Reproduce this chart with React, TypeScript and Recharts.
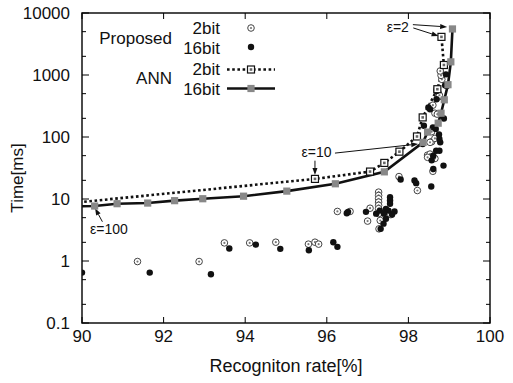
import * as React from "react";
import {
  ComposedChart,
  XAxis,
  YAxis,
  Line,
  Scatter,
  ReferenceLine,
  ReferenceDot,
  ReferenceArea,
} from "recharts";

const W = 513;
const H = 383;
const PLOT = { left: 82, right: 490, top: 13, bottom: 323 };
const FONT = "'Liberation Sans', Arial, Helvetica, sans-serif";

const xTicks = [90, 92, 94, 96, 98, 100];
const yMajor = [0.1, 1, 10, 100, 1000, 10000];
const yMinor = [0.2, 0.5, 2, 5, 20, 50, 200, 500, 2000, 5000];
const yTickLabels = ["0.1", "1", "10", "100", "1000", "10000"];

type Pt = { x: number; y: number };

// recognition rate [%] vs time [ms]
const proposed2bit: Pt[] = [
  { x: 91.36, y: 0.98 }, { x: 92.87, y: 0.98 }, { x: 93.49, y: 1.96 }, { x: 94.11, y: 1.96 },
  { x: 94.75, y: 2.01 }, { x: 95.55, y: 1.87 }, { x: 95.71, y: 2.01 }, { x: 95.8, y: 1.87 },
  { x: 96.26, y: 6.3 }, { x: 96.57, y: 6.3 }, { x: 97.06, y: 7.1 }, { x: 97.0, y: 4.4 },
  { x: 97.27, y: 12.9 }, { x: 97.27, y: 11.4 }, { x: 97.27, y: 10.1 }, { x: 97.27, y: 8.9 },
  { x: 97.27, y: 7.9 }, { x: 97.27, y: 7.0 }, { x: 97.27, y: 5.8 }, { x: 97.31, y: 4.5 },
  { x: 97.28, y: 3.3 }, { x: 97.57, y: 5.6 },
  { x: 97.77, y: 23 }, { x: 98.22, y: 13.7 }, { x: 98.6, y: 28 }, { x: 98.47, y: 51 },
  { x: 98.65, y: 45 }, { x: 98.53, y: 53 }, { x: 98.47, y: 47 }, { x: 98.57, y: 84 },
  { x: 98.65, y: 95 }, { x: 98.53, y: 82 }, { x: 98.57, y: 122 }, { x: 98.65, y: 242 },
  { x: 98.6, y: 326 }, { x: 98.71, y: 233 }, { x: 98.73, y: 508 }, { x: 98.76, y: 449 },
  { x: 98.76, y: 471 }, { x: 98.7, y: 589 }, { x: 98.82, y: 851 }, { x: 98.8, y: 986 },
  { x: 98.78, y: 1160 },
];

const proposed16bit: Pt[] = [
  { x: 90.0, y: 0.65 }, { x: 91.66, y: 0.65 }, { x: 93.16, y: 0.61 }, { x: 93.61, y: 1.59 },
  { x: 94.26, y: 1.84 }, { x: 94.86, y: 1.57 }, { x: 95.56, y: 1.49 }, { x: 96.16, y: 2.01 },
  { x: 96.26, y: 1.69 },
  { x: 96.49, y: 5.9 }, { x: 96.52, y: 6.2 }, { x: 96.96, y: 6.2 }, { x: 97.21, y: 5.8 },
  { x: 97.32, y: 3.3 }, { x: 97.39, y: 4.0 }, { x: 97.45, y: 4.8 }, { x: 97.55, y: 10.7 },
  { x: 97.55, y: 9.5 }, { x: 97.55, y: 8.4 }, { x: 97.51, y: 6.5 }, { x: 97.66, y: 6.3 },
  { x: 97.45, y: 6.9 }, { x: 97.3, y: 6.5 }, { x: 97.6, y: 5.6 }, { x: 97.4, y: 5.8 },
  { x: 97.81, y: 20.6 }, { x: 98.15, y: 19.9 }, { x: 98.19, y: 18 }, { x: 98.56, y: 15.9 },
  { x: 98.86, y: 34.6 }, { x: 98.61, y: 30.5 }, { x: 98.57, y: 42 }, { x: 98.61, y: 50 },
  { x: 98.68, y: 60 }, { x: 98.76, y: 60 }, { x: 98.35, y: 77 }, { x: 98.78, y: 82 },
  { x: 98.76, y: 93 }, { x: 98.38, y: 152 }, { x: 98.6, y: 143 }, { x: 98.67, y: 135 },
  { x: 98.87, y: 199 }, { x: 98.49, y: 299 }, { x: 98.53, y: 281 }, { x: 98.69, y: 406 },
  { x: 98.9, y: 682 }, { x: 98.94, y: 664 }, { x: 98.92, y: 1025 }, { x: 98.69, y: 553 },
  { x: 98.75, y: 110 },
];

// ANN, ordered from eps=100 to eps=2 (first entry only carries the line to the axis)
const ann2bit: Pt[] = [
  { x: 89.8, y: 8.7 }, { x: 95.71, y: 21.1 }, { x: 97.06, y: 27.7 }, { x: 97.41, y: 38.2 },
  { x: 97.78, y: 58 }, { x: 98.21, y: 102 }, { x: 98.35, y: 207 }, { x: 98.71, y: 590 },
  { x: 98.87, y: 1450 }, { x: 98.81, y: 4120 },
];

const ann16bit: Pt[] = [
  { x: 89.8, y: 7.6 }, { x: 90.31, y: 7.7 }, { x: 90.86, y: 8.4 }, { x: 91.61, y: 8.6 },
  { x: 92.27, y: 9.4 }, { x: 92.96, y: 10.1 }, { x: 93.96, y: 11.1 }, { x: 95.02, y: 13.4 },
  { x: 96.21, y: 17.6 }, { x: 97.41, y: 27.4 }, { x: 98.36, y: 82 }, { x: 98.47, y: 120 },
  { x: 98.73, y: 167 }, { x: 98.8, y: 242 }, { x: 98.88, y: 398 }, { x: 98.97, y: 698 },
  { x: 99.04, y: 1630 }, { x: 99.08, y: 5530 },
];

// annotation arrows [from, to] and their texts
const epsArrows: [Pt, Pt][] = [
  [{ x: 98.11, y: 6490 }, { x: 98.95, y: 5960 }],
  [{ x: 98.12, y: 5740 }, { x: 98.74, y: 4250 }],
  [{ x: 96.2, y: 55 }, { x: 98.24, y: 77 }],
  [{ x: 95.71, y: 41.5 }, { x: 95.71, y: 24.4 }],
  [{ x: 90.5, y: 4.3 }, { x: 90.32, y: 7.1 }],
];
const epsLabels = [
  { x: 97.74, y: 6000, text: "ε=2" },
  { x: 95.75, y: 56.6, text: "ε=10" },
  { x: 90.66, y: 3.24, text: "ε=100" },
];

const circleOpen = (cx: number, cy: number) => (
  <g>
    <circle cx={cx} cy={cy} r={3.3} fill="#fff" stroke="#444" strokeWidth={1} />
    <circle cx={cx} cy={cy} r={1.1} fill="#777" />
  </g>
);
const circleFilled = (cx: number, cy: number) => <circle cx={cx} cy={cy} r={3.2} fill="#111" />;
const boxOpen = (cx: number, cy: number) => (
  <g>
    <rect x={cx - 3.5} y={cy - 3.5} width={7} height={7} fill="#fff" stroke="#111" strokeWidth={1.2} />
    <rect x={cx - 1.3} y={cy - 1.3} width={2.6} height={2.6} fill="#666" />
  </g>
);
const boxGray = (cx: number, cy: number) => (
  <rect x={cx - 3.6} y={cy - 3.6} width={7.2} height={7.2} fill="#888" />
);

const dotFor = (draw: (cx: number, cy: number) => React.ReactElement) => (p: any) => {
  if (p.payload.x < 90 || p.cx == null) return <g key={p.key ?? p.index} />;
  return <g key={p.key ?? p.index}>{draw(p.cx, p.cy)}</g>;
};

function YTick({ y, payload }: any) {
  const i = yMajor.indexOf(payload.value);
  const len = i >= 0 ? 7 : 4;
  return (
    <g>
      <line x1={PLOT.left} x2={PLOT.left + len} y1={y} y2={y} stroke="#000" />
      <line x1={PLOT.right} x2={PLOT.right - len} y1={y} y2={y} stroke="#000" />
      {i >= 0 && (
        <text x={PLOT.left - 12} y={y + 6} textAnchor="end" fontSize={17} fontFamily={FONT} fill="#111">
          {yTickLabels[i]}
        </text>
      )}
    </g>
  );
}

function XTick({ x, payload }: any) {
  return (
    <g>
      <line x1={x} x2={x} y1={PLOT.bottom} y2={PLOT.bottom - 6} stroke="#000" />
      <line x1={x} x2={x} y1={PLOT.top} y2={PLOT.top + 6} stroke="#000" />
      <text x={x} y={PLOT.bottom + 19} textAnchor="middle" fontSize={17} fontFamily={FONT} fill="#111">
        {payload.value}
      </text>
    </g>
  );
}

const arrowShape = (p: any) => {
  const { x1, y1, x2, y2 } = p;
  const a = Math.atan2(y2 - y1, x2 - x1);
  const L = 7;
  const w = 2.5;
  const bx = x2 - L * Math.cos(a);
  const by = y2 - L * Math.sin(a);
  const nx = -Math.sin(a) * w;
  const ny = Math.cos(a) * w;
  return (
    <g>
      <line x1={x1} y1={y1} x2={bx} y2={by} stroke="#111" strokeWidth={1} />
      <polygon points={`${x2},${y2} ${bx + nx},${by + ny} ${bx - nx},${by - ny}`} fill="#111" />
    </g>
  );
};

function LegendBlock() {
  const t = { fontSize: 17, fontFamily: FONT, fill: "#111" } as const;
  return (
    <g>
      <text x={172} y={44} textAnchor="end" {...t}>Proposed</text>
      <text x={220} y={34} textAnchor="end" {...t}>2bit</text>
      <text x={220} y={54} textAnchor="end" {...t}>16bit</text>
      {circleOpen(251, 28)}
      {circleFilled(251, 47)}
      <text x={172} y={84} textAnchor="end" {...t}>ANN</text>
      <text x={220} y={75} textAnchor="end" {...t}>2bit</text>
      <text x={220} y={95} textAnchor="end" {...t}>16bit</text>
      <line x1={227} x2={275} y1={69.5} y2={69.5} stroke="#111" strokeWidth={2.6} strokeDasharray="2.6 2.6" />
      {boxOpen(251, 69.5)}
      <line x1={227} x2={275} y1={88.5} y2={88.5} stroke="#111" strokeWidth={2.6} />
      {boxGray(251, 88.5)}
    </g>
  );
}

export default function App() {
  return (
    <div style={{ position: "absolute", left: 0, top: 0, width: W, height: H, background: "#fff", fontFamily: FONT }}>
      <ComposedChart width={W} height={H} margin={{ top: 13, right: 23, bottom: 0, left: 0 }}>
        <XAxis
          type="number"
          dataKey="x"
          domain={[90, 100]}
          ticks={xTicks}
          allowDataOverflow
          axisLine={false}
          tickLine={false}
          tick={<XTick />}
          height={60}
          label={{
            value: "Recogniton rate[%]",
            content: () => (
              <text x={(PLOT.left + PLOT.right) / 2} y={372} textAnchor="middle" fontSize={18} fontFamily={FONT} fill="#111">
                Recogniton rate[%]
              </text>
            ),
          }}
        />
        <YAxis
          type="number"
          dataKey="y"
          scale="log"
          domain={[0.1, 10000]}
          ticks={[...yMajor, ...yMinor].sort((a, b) => a - b)}
          allowDataOverflow
          axisLine={false}
          tickLine={false}
          tick={<YTick />}
          width={82}
          interval={0}
          label={{
            value: "Time[ms]",
            content: () => (
              <text transform="translate(23,178) rotate(-90)" textAnchor="middle" fontSize={17} fontFamily={FONT} fill="#111">
                Time[ms]
              </text>
            ),
          }}
        />
        <ReferenceArea x1={90} x2={100} y1={0.1} y2={10000} fill="none" stroke="#111" strokeWidth={1.5} fillOpacity={0} />
        <Scatter data={proposed2bit} dataKey="y" isAnimationActive={false} shape={(p: any) => circleOpen(p.cx, p.cy)} />
        <Scatter data={proposed16bit} dataKey="y" isAnimationActive={false} shape={(p: any) => circleFilled(p.cx, p.cy)} />
        <Line
          data={ann2bit}
          dataKey="y"
          stroke="#111"
          strokeWidth={2.6}
          strokeDasharray="2.6 2.6"
          dot={dotFor(boxOpen)}
          isAnimationActive={false}
        />
        <Line
          data={ann16bit}
          dataKey="y"
          stroke="#111"
          strokeWidth={2.6}
          dot={dotFor(boxGray)}
          isAnimationActive={false}
        />
        {epsArrows.map((seg, i) => (
          <ReferenceLine key={`a${i}`} segment={seg} shape={arrowShape} ifOverflow="visible" />
        ))}
        {epsLabels.map((l, i) => (
          <ReferenceDot
            key={`l${i}`}
            x={l.x}
            y={l.y}
            r={1}
            fill="none"
            stroke="none"
            ifOverflow="visible"
            label={{ value: l.text, position: "center", fontSize: 14, fontFamily: FONT, fill: "#111" }}
          />
        ))}
        <LegendBlock />
      </ComposedChart>
    </div>
  );
}
